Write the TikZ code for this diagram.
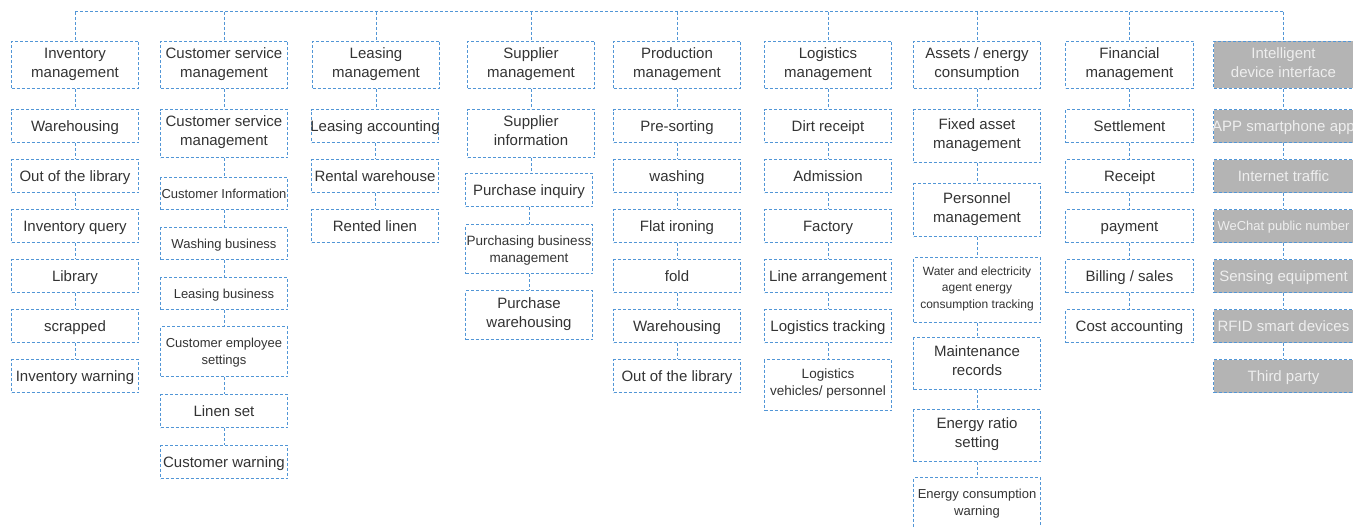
\documentclass[tikz,border=0pt]{standalone}
\usepackage{fontspec}
\setmainfont{Liberation Sans}
\definecolor{bord}{RGB}{82,150,214}
\definecolor{txtc}{RGB}{51,51,51}
\definecolor{grayfill}{RGB}{180,180,180}
\definecolor{graytxt}{RGB}{238,238,238}
\tikzset{
  box/.style={draw=bord, line width=1pt, dash pattern=on 3pt off 2pt, inner sep=0pt, anchor=north west},
  graybox/.style={box, fill=grayfill},
  txt/.style={inner sep=0pt, align=center, text=txtc, font=\fontsize{15}{18.8}\selectfont},
  gtxt/.style={txt, text=graytxt},
  sm/.style={font=\fontsize{13}{17}\selectfont},
  smm/.style={font=\fontsize{13.5}{17}\selectfont},
  xs/.style={font=\fontsize{12}{16.5}\selectfont},
  up/.style={yshift=3pt},
  conn/.style={draw=bord, line width=1pt, dash pattern=on 3pt off 2pt}
}
\newcommand\tstrut{\rule[-0.22em]{0pt}{1.13em}}
% \bx[text style]{box style}{name}{x}{y}{w}{h}{text}
\newcommand\bx[8][]{%
  \node[#2, minimum width=#6pt, minimum height=#7pt] (#3) at (#4pt,-#5pt) {};
  \node[txt,#1] at ([yshift=-0.5pt]#3.center) {\tstrut#8\tstrut};
}
\begin{document}
\begin{tikzpicture}
\path[use as bounding box] (0,0) rectangle (1353pt,-527pt);
\clip (0,0) rectangle (1353pt,-527pt);
\coordinate (bus) at (0,-12pt);
% column 1
\bx[up]{box}{t1}{11}{41}{127}{47}{Inventory\\management}
\bx{box}{a1}{11}{109}{127}{33}{Warehousing}
\bx{box}{a2}{11}{159}{127}{33}{Out of the library}
\bx{box}{a3}{11}{209}{127}{33}{Inventory query}
\bx{box}{a4}{11}{259}{127}{33}{Library}
\bx{box}{a5}{11}{309}{127}{33}{scrapped}
\bx{box}{a6}{11}{359}{127}{33}{Inventory warning}
% column 2
\bx[up]{box}{t2}{160}{41}{127}{47}{Customer service\\management}
\bx[up]{box}{b1}{160}{109}{127}{48}{Customer service\\management}
\bx[sm]{box}{b2}{160}{177}{127}{32}{Customer Information}
\bx[sm]{box}{b3}{160}{227}{127}{32}{Washing business}
\bx[sm]{box}{b4}{160}{277}{127}{32}{Leasing business}
\bx[sm]{box}{b5}{160}{326}{127}{50}{Customer employee\\settings}
\bx{box}{b6}{160}{394}{127}{33}{Linen set}
\bx{box}{b7}{160}{445}{127}{33}{Customer warning}
% column 3
\bx[up]{box}{t3}{312}{41}{127}{47}{Leasing\\management}
\bx{box}{c1}{311}{109}{127}{33}{Leasing accounting}
\bx{box}{c2}{311}{159}{127}{33}{Rental warehouse}
\bx{box}{c3}{311}{209}{127}{33}{Rented linen}
% column 4
\bx[up]{box}{t4}{467}{41}{127}{47}{Supplier\\management}
\bx[up]{box}{d1}{467}{109}{127}{48}{Supplier\\information}
\bx{box}{d2}{465}{173}{127}{33}{Purchase inquiry}
\bx[smm]{box}{d3}{465}{224}{127}{49}{Purchasing business\\management}
\bx[up]{box}{d4}{465}{290}{127}{49}{Purchase\\warehousing}
% column 5
\bx[up]{box}{t5}{613}{41}{127}{47}{Production\\management}
\bx{box}{e1}{613}{109}{127}{33}{Pre-sorting}
\bx{box}{e2}{613}{159}{127}{33}{washing}
\bx{box}{e3}{613}{209}{127}{33}{Flat ironing}
\bx{box}{e4}{613}{259}{127}{33}{fold}
\bx{box}{e5}{613}{309}{127}{33}{Warehousing}
\bx{box}{e6}{613}{359}{127}{33}{Out of the library}
% column 6
\bx[up]{box}{t6}{764}{41}{127}{47}{Logistics\\management}
\bx{box}{f1}{764}{109}{127}{33}{Dirt receipt}
\bx{box}{f2}{764}{159}{127}{33}{Admission}
\bx{box}{f3}{764}{209}{127}{33}{Factory}
\bx{box}{f4}{764}{259}{127}{33}{Line arrangement}
\bx{box}{f5}{764}{309}{127}{33}{Logistics tracking}
\bx[smm,up]{box}{f6}{764}{359}{127}{51}{Logistics\\vehicles/ personnel}
% column 7
\bx[up]{box}{t7}{913}{41}{127}{47}{Assets / energy\\consumption}
\bx[up]{box}{g1}{913}{109}{127}{53}{Fixed asset\\management}
\bx[up]{box}{g2}{913}{183}{127}{53}{Personnel\\management}
\bx[xs,up]{box}{g3}{913}{257}{127}{65}{Water and electricity\\agent energy\\consumption tracking}
\bx[up]{box}{g4}{913}{337}{127}{52}{Maintenance\\records}
\bx[up]{box}{g5}{913}{409}{127}{52}{Energy ratio\\setting}
\bx[sm,up]{box}{g6}{913}{477}{127}{55}{Energy consumption\\warning}
% column 8
\bx[up]{box}{t8}{1065}{41}{128}{47}{Financial\\management}
\bx{box}{h1}{1065}{109}{128}{33}{Settlement}
\bx{box}{h2}{1065}{159}{128}{33}{Receipt}
\bx{box}{h3}{1065}{209}{128}{33}{payment}
\bx{box}{h4}{1065}{259}{128}{33}{Billing / sales}
\bx{box}{h5}{1065}{309}{128}{33}{Cost accounting}
% column 9 (gray)
\bx[gtxt,up]{graybox}{t9}{1213}{41}{140}{47}{Intelligent\\device interface}
\bx[gtxt]{graybox}{i1}{1213}{109}{140}{33}{APP smartphone app}
\bx[gtxt]{graybox}{i2}{1213}{159}{140}{33}{Internet traffic}
\bx[gtxt,sm]{graybox}{i3}{1213}{209}{140}{33}{WeChat public number}
\bx[gtxt]{graybox}{i4}{1213}{259}{140}{33}{Sensing equipment}
\bx[gtxt]{graybox}{i5}{1213}{309}{140}{33}{RFID smart devices}
\bx[gtxt]{graybox}{i6}{1213}{359}{140}{33}{Third party}
% bus
\draw[conn] (t1.north |- bus) -- (t9.north |- bus);
\foreach \t in {t1,t2,t3,t4,t5,t6,t7,t8,t9}
  \draw[conn] (\t.north |- bus) -- (\t.north);
% vertical chains
\foreach \u/\v in {t1/a1,a1/a2,a2/a3,a3/a4,a4/a5,a5/a6,
  t2/b1,b1/b2,b2/b3,b3/b4,b4/b5,b5/b6,b6/b7,
  t3/c1,c1/c2,c2/c3,
  t4/d1,d1/d2,d2/d3,d3/d4,
  t5/e1,e1/e2,e2/e3,e3/e4,e4/e5,e5/e6,
  t6/f1,f1/f2,f2/f3,f3/f4,f4/f5,f5/f6,
  t7/g1,g1/g2,g2/g3,g3/g4,g4/g5,g5/g6,
  t8/h1,h1/h2,h2/h3,h3/h4,h4/h5,
  t9/i1,i1/i2,i2/i3,i3/i4,i4/i5,i5/i6}
  \draw[conn] (\u.south) -- (\u.south |- \v.north);
\end{tikzpicture}
\end{document}
